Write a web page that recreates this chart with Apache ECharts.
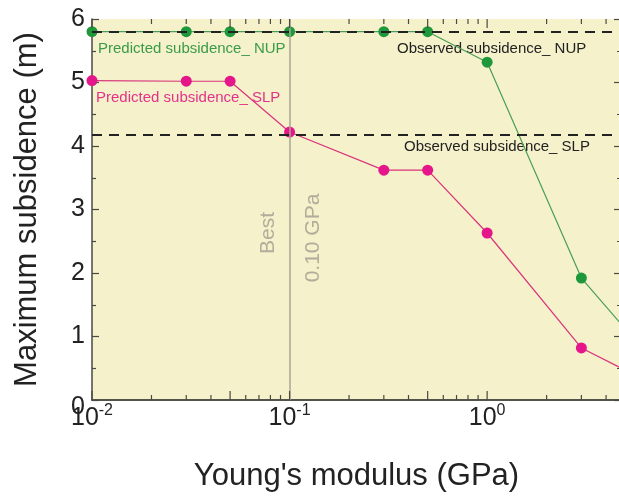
<!DOCTYPE html>
<html>
<head>
<meta charset="utf-8">
<script src="https://cdn.jsdelivr.net/npm/echarts@6/dist/echarts.min.js"></script>
<style>
  html, body { margin: 0; padding: 0; background: #fff; }
  #main { width: 619px; height: 496px; }
</style>
</head>
<body>
<div id="main"></div>
<script>
// Young's modulus (GPa) and max subsidence (m)
var modulus = [0.01, 0.03, 0.05, 0.1, 0.3, 0.5, 1, 3, 5];
var predictedNUP = [5.8, 5.8, 5.8, 5.8, 5.8, 5.8, 5.32, 1.92, 1.12];
var predictedSLP = [5.03, 5.02, 5.02, 4.22, 3.62, 3.62, 2.63, 0.82, 0.47];
var observedNUP = 5.8;
var observedSLP = 4.18;
var bestModulus = 0.1;
var decadeTicks = [0.01, 0.1, 1];
var majorTicks = [0.01, 0.05, 0.1, 0.5, 1];
var minorTicks = [0.02, 0.03, 0.04, 0.06, 0.07, 0.08, 0.09, 0.2, 0.3, 0.4, 0.6, 0.7, 0.8, 0.9, 2, 3, 4];

var chart = echarts.init(document.getElementById('main'));

var xMin = 0.01, xMax = 4.76;
var yMin = 0, yMax = 6;
var frame = '#4a4a42';

// log axis ticks: [value, isMajor]
var tickData = majorTicks.map(function (v) { return [v, 1]; })
  .concat(minorTicks.map(function (v) { return [v, 0]; }));

function xAxisDef(pos, withLabels) {
  return {
    type: 'log',
    logBase: 10,
    position: pos,
    min: xMin,
    max: xMax,
    axisLine: { show: true, lineStyle: { color: frame, width: 1.5 } },
    axisTick: { show: false },
    splitLine: { show: false },
    axisLabel: withLabels ? {
      show: true,
      customValues: decadeTicks,
      margin: 3,
      color: '#222',
      formatter: function (v) {
        var e = Math.log10(v);
        if (Math.abs(e - Math.round(e)) > 1e-6 || v > 1.5) return '';
        return '{b|10}{s|' + Math.round(e) + '}';
      },
      rich: {
        b: { fontSize: 25, fontFamily: 'Liberation Sans', color: '#222', lineHeight: 30 },
        s: { fontSize: 16, fontFamily: 'Liberation Sans', color: '#222', lineHeight: 16, verticalAlign: 'top' }
      }
    } : { show: false },
    name: withLabels ? "Young's modulus (GPa)" : '',
    nameLocation: 'middle',
    nameGap: 61,
    nameTextStyle: { fontSize: 31, fontFamily: 'Liberation Sans', color: '#222' }
  };
}

function yAxisDef(pos, withLabels) {
  return {
    type: 'value',
    position: pos,
    min: yMin,
    max: yMax,
    interval: 1,
    axisLine: { show: true, lineStyle: { color: frame, width: 1.5 } },
    axisTick: { show: true, inside: true, length: 7, lineStyle: { color: frame, width: 1.2 } },
    minorTick: { show: true, splitNumber: 2, length: 4, lineStyle: { color: frame, width: 1.2 } },
    splitLine: { show: false },
    axisLabel: withLabels ? {
      show: true,
      margin: 7,
      fontSize: 25,
      fontFamily: 'Liberation Sans',
      color: '#222',
      formatter: function (v) { return v === 0 ? '{z|0}' : String(v); },
      rich: { z: { fontSize: 25, fontFamily: 'Liberation Sans', color: '#222', padding: [14, 0, 0, 0] } }
    } : { show: false },
    name: withLabels ? 'Maximum subsidence (m)' : '',
    nameLocation: 'middle',
    nameGap: 49,
    nameTextStyle: { fontSize: 31, fontFamily: 'Liberation Sans', color: '#222' }
  };
}

function pairs(xs, ys) {
  return xs.map(function (x, i) { return [x, ys[i]]; });
}

var noteFont = '15px "Liberation Sans"';
var grayFont = '21px "Liberation Sans"';

chart.setOption({
  animation: false,
  grid: {
    left: 92, top: 19, right: -2, bottom: 96,
    show: true, backgroundColor: '#f5f1cb', borderWidth: 0,
    outerBoundsMode: 'none'
  },
  xAxis: [xAxisDef('bottom', true), xAxisDef('top', false)],
  yAxis: [yAxisDef('left', true), yAxisDef('right', false)],
  series: [
    {
      name: 'reference lines',
      type: 'line',
      data: [],
      z: 1,
      markLine: {
        silent: true,
        symbol: 'none',
        label: { show: false },
        data: [
          { yAxis: observedNUP, lineStyle: { color: '#222', width: 2, type: [10, 7] } },
          { yAxis: observedSLP, lineStyle: { color: '#222', width: 2, type: [10, 7] } },
          { xAxis: bestModulus, lineStyle: { color: '#a9a696', width: 1.5, type: 'solid' } }
        ]
      }
    },
    {
      name: 'log ticks',
      type: 'custom',
      silent: true,
      z: 5,
      data: tickData,
      renderItem: function (params, api) {
        var v = api.value(0);
        var len = api.value(1) ? 9 : 5;
        var pb = api.coord([v, yMin]);
        var pt = api.coord([v, yMax]);
        var st = { stroke: frame, lineWidth: 1.2 };
        return {
          type: 'group',
          children: [
            { type: 'line', shape: { x1: pb[0], y1: pb[1], x2: pb[0], y2: pb[1] - len }, style: st },
            { type: 'line', shape: { x1: pt[0], y1: pt[1], x2: pt[0], y2: pt[1] + len }, style: st }
          ]
        };
      }
    },
    {
      name: 'Predicted subsidence_ NUP',
      type: 'line',
      z: 3,
      clip: false,
      data: pairs(modulus, predictedNUP),
      symbol: 'circle',
      symbolSize: 11,
      lineStyle: { color: '#4a9e55', width: 1.2 },
      itemStyle: { color: '#1f983c' }
    },
    {
      name: 'Predicted subsidence_ SLP',
      type: 'line',
      z: 3,
      clip: false,
      data: pairs(modulus, predictedSLP),
      symbol: 'circle',
      symbolSize: 11,
      lineStyle: { color: '#d9347c', width: 1.2 },
      itemStyle: { color: '#e5158a' }
    }
  ],
  graphic: [
    { type: 'text', x: 98, y: 49, style: { text: 'Predicted subsidence_ NUP', font: noteFont, fill: '#3a9b4a', textVerticalAlign: 'middle' } },
    { type: 'text', x: 96, y: 98, style: { text: 'Predicted subsidence_ SLP', font: noteFont, fill: '#e2338a', textVerticalAlign: 'middle' } },
    { type: 'text', x: 397, y: 49, style: { text: 'Observed subsidence_ NUP', font: noteFont, fill: '#222', textVerticalAlign: 'middle' } },
    { type: 'text', x: 404, y: 147, style: { text: 'Observed subsidence_ SLP', font: noteFont, fill: '#222', textVerticalAlign: 'middle' } },
    { type: 'text', x: 268, y: 233, rotation: Math.PI / 2, style: { text: 'Best', font: grayFont, fill: '#b2ad9b', textAlign: 'center', textVerticalAlign: 'middle' } },
    { type: 'text', x: 313, y: 238, rotation: Math.PI / 2, style: { text: '0.10 GPa', font: grayFont, fill: '#b2ad9b', textAlign: 'center', textVerticalAlign: 'middle' } }
  ]
});
</script>
</body>
</html>
